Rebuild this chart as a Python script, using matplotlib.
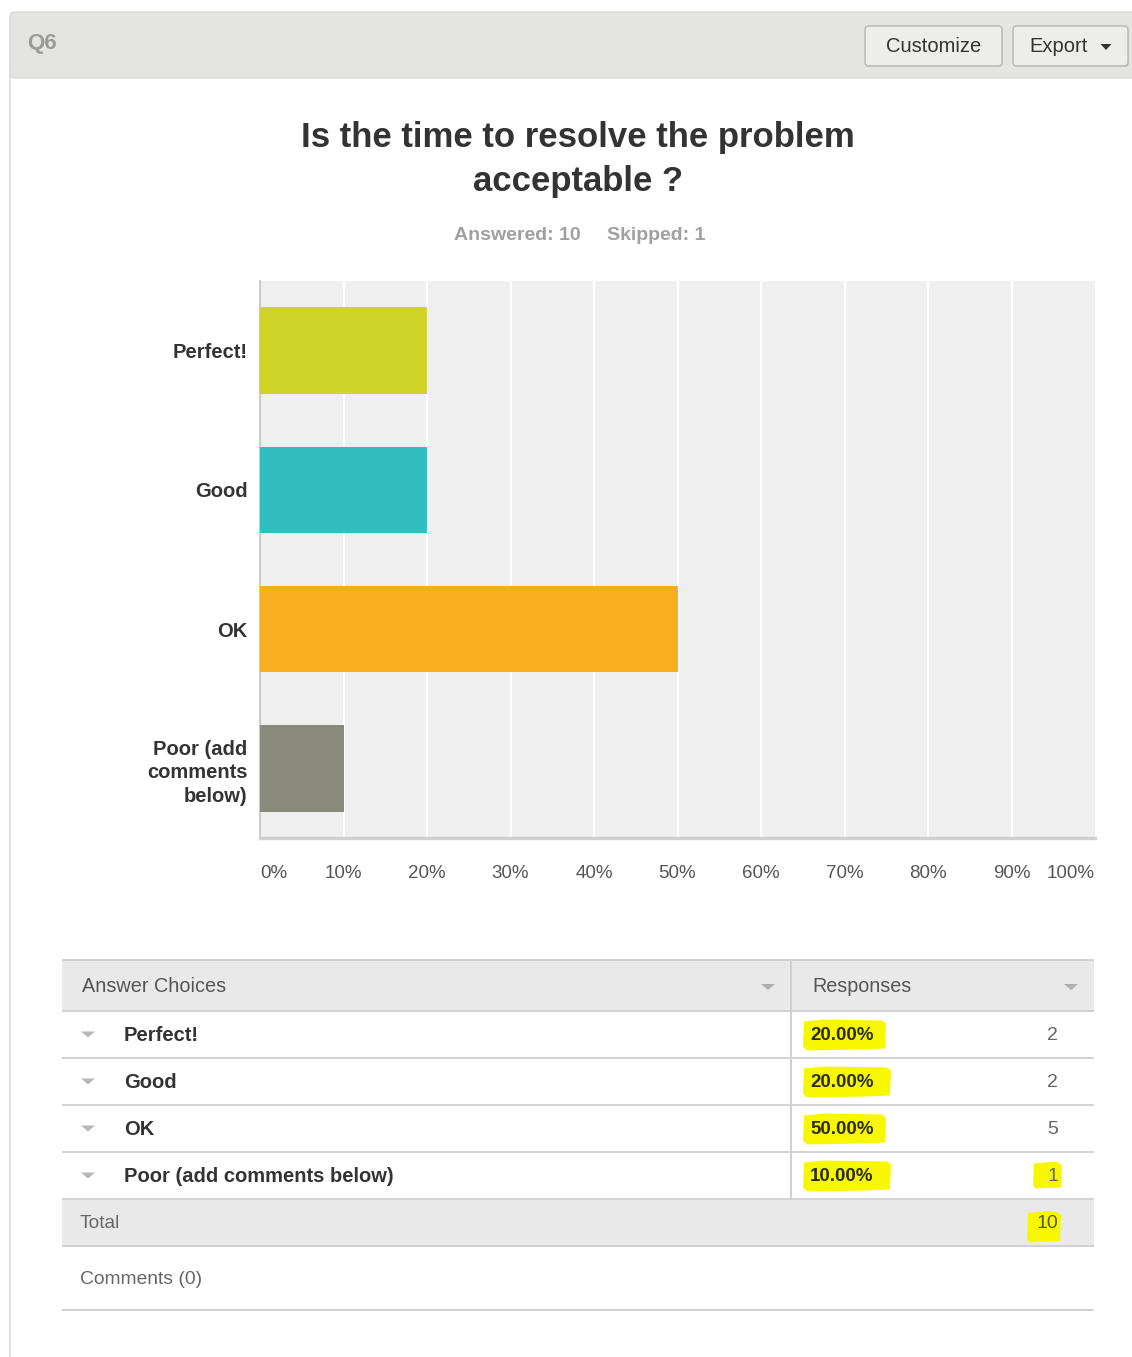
import matplotlib
import matplotlib.pyplot as plt
from matplotlib.patches import Rectangle, FancyBboxPatch, Polygon

matplotlib.use('Agg')
plt.rcParams['font.family'] = ['Liberation Sans', 'DejaVu Sans']

# survey results
question = "Q6"
title_lines = ["Is the time to resolve the problem", "acceptable ?"]
answered = 10
skipped = 1
choices = ["Perfect!", "Good", "OK", "Poor (add comments below)"]
axis_labels = ["Perfect!", "Good", "OK", "Poor (add\ncomments\nbelow)"]
percents = [20, 20, 50, 10]
counts = [2, 2, 5, 1]
comment_count = 0
x_ticks = [0, 10, 20, 30, 40, 50, 60, 70, 80, 90, 100]

bar_colors = ["#cfd427", "#32bdbf", "#f7af1f", "#898a7a"]

W, H = 1132, 1357
fig = plt.figure(figsize=(W / 100, H / 100), dpi=100)
fig.patch.set_facecolor("white")

# pixel-space overlay for the page furniture
ov = fig.add_axes([0, 0, 1, 1])
ov.set_xlim(0, W)
ov.set_ylim(H, 0)
ov.axis("off")
ov.set_zorder(0)


def px_rect(x0, y0, x1, y1, **kw):
    ov.add_patch(Rectangle((x0, y0), x1 - x0, y1 - y0, **kw))


def hline(x0, x1, y, color="#d3d3d3", lw=1.6):
    ov.plot([x0, x1], [y, y], color=color, lw=lw, solid_capstyle="butt")


def caret(cx, cy, w=13, h=6, color="#b0b0b0"):
    ov.add_patch(Polygon([(cx - w / 2, cy - h / 2), (cx + w / 2, cy - h / 2),
                          (cx, cy + h / 2)], closed=True, color=color, lw=0))


def marker_box(x0, y0, x1, y1):
    # hand-drawn looking highlighter stroke
    pts = [(x0, y0 + 2), (x0 + 20, y0), (x1 - 4, y0 + 1), (x1, y0 + 4),
           (x1 - 1, y1 - 1), (x1 - 25, y1), (x0 + 3, y1 + 1), (x0 - 1, y1 - 3)]
    ov.add_patch(Polygon(pts, closed=True, color="#f7f700", lw=0, zorder=1))


# header band
ov.add_patch(FancyBboxPatch((10, 12), W - 10 + 10, 66,
                            boxstyle="round,pad=0,rounding_size=5",
                            facecolor="#e4e4e2", edgecolor="#d8d8d6", lw=1))
ov.plot([10, 10], [70, H], color="#dcdcdc", lw=1.2)
ov.text(27, 43, question, fontsize=16, fontweight="bold", color="#9a9a9a",
        va="center", ha="left")

for x0, x1, label in [(865, 1002, "Customize"), (1013, 1128, "Export")]:
    ov.add_patch(FancyBboxPatch((x0 + 1, 27), x1 - x0, 40,
                                boxstyle="round,pad=0,rounding_size=4",
                                facecolor="#c8c8c6", edgecolor="none"))
    ov.add_patch(FancyBboxPatch((x0, 26), x1 - x0, 40,
                                boxstyle="round,pad=0,rounding_size=4",
                                facecolor="#ededeb", edgecolor="#bdbdbb", lw=1.2))
    if label == "Export":
        ov.text(1029, 46, label, fontsize=14.5, color="#333333", va="center", ha="left")
        caret(1106, 47, w=11, h=6, color="#333333")
    else:
        ov.text((x0 + x1) / 2, 46, label, fontsize=14.5, color="#333333",
                va="center", ha="center")

# title block
for line, y in zip(title_lines, [137, 181]):
    ov.text(578, y, line, fontsize=25, fontweight="bold", color="#333333",
            ha="center", va="center")
ov.text(517, 236, f"Answered: {answered}", fontsize=14, fontweight="bold",
        color="#a0a0a0", ha="center", va="center")
ov.text(656, 236, f"Skipped: {skipped}", fontsize=14, fontweight="bold",
        color="#a0a0a0", ha="center", va="center")

# bar chart
ax_l, ax_r, ax_t, ax_b = 260, 1095, 281, 838
ax = fig.add_axes([ax_l / W, (H - ax_b) / H, (ax_r - ax_l) / W, (ax_b - ax_t) / H])
ax.set_zorder(2)
ax.set_facecolor("#efefef")
ypos = list(range(len(choices)))
ax.barh(ypos, percents, height=0.62, color=bar_colors, zorder=3)
ax.set_xlim(0, 100)
ax.set_ylim(len(choices) - 0.5, -0.5)
for t in x_ticks[1:-1]:
    ax.axvline(t, color="white", lw=1.6, zorder=1)
for side in ["top", "right"]:
    ax.spines[side].set_visible(False)
ax.spines["left"].set_color("#cccccc")
ax.spines["left"].set_linewidth(1.5)
ax.spines["bottom"].set_color("#d0d0d0")
ax.spines["bottom"].set_linewidth(2.5)

ax.set_yticks(ypos)
ax.set_yticklabels(axis_labels, fontsize=14.5, fontweight="bold", color="#333333",
                   linespacing=1.3)
ax.tick_params(axis="y", length=0, pad=9)
ax.set_xticks(x_ticks)
ax.set_xticklabels([f"{t}%" for t in x_ticks], fontsize=13.5, color="#555555")
ax.tick_params(axis="x", length=0, pad=19.5)
xt = ax.get_xticklabels()
xt[0].set_ha("left")
xt[-1].set_ha("right")

# results table
tl, tr, col = 62, 1094, 791
row_h = 47
head_t, head_b = 960, 1011
px_rect(tl, head_t, tr, head_b, facecolor="#e9e9e9", edgecolor="none")
hline(tl, tr, head_t, color="#d0d0d0", lw=1.4)
hline(tl, tr, head_b, color="#d0d0d0", lw=1.4)
ov.text(82, 987, "Answer Choices", fontsize=14.3, color="#555555", va="center")
ov.text(812, 987, "Responses", fontsize=14.2, color="#555555", va="center")
caret(768, 987, w=14, h=6)
caret(1071, 987, w=14, h=6)

total_t = head_b + row_h * len(choices)
ov.plot([col, col], [head_t, total_t], color="#d0d0d0", lw=1.4)

for i, (name, pct, n) in enumerate(zip(choices, percents, counts)):
    top = head_b + i * row_h
    cy = top + row_h / 2
    caret(88, cy, w=14, h=6, color="#b8b8b8")
    ov.text(124, cy + 1, name, fontsize=14.5, color="#333333", va="center",
            fontweight="bold")
    marker_box(804, cy - 15, 886 + (i % 2) * 5, cy + 15)
    ov.text(810, cy + 1, f"{pct:.2f}%", fontsize=13.5, color="#2d2d10", va="center",
            fontweight="bold", zorder=3)
    if i == len(choices) - 1:
        marker_box(1034, cy - 14, 1062, cy + 13)
    ov.text(1058, cy + 1, str(n), fontsize=14, color="#666666", va="center", ha="right",
            zorder=3)
    hline(tl, tr, top + row_h, color="#d3d3d3", lw=1.4)

# total row
total_b = total_t + row_h
px_rect(tl, total_t, tr, total_b, facecolor="#e9e9e9", edgecolor="none")
hline(tl, tr, total_b, color="#d0d0d0", lw=1.4)
ov.text(80, total_t + row_h / 2 + 1, "Total", fontsize=13.8, color="#666666",
        va="center")
marker_box(1028, total_t + 12, 1061, total_t + 43)
ov.text(1058, total_t + row_h / 2 + 1, str(sum(counts)), fontsize=14,
        color="#5a5a30", va="center", ha="right", zorder=3)

ov.text(80, 1280, f"Comments ({comment_count})", fontsize=13.9, color="#666666",
        va="center")
hline(tl, tr, 1310, color="#d0d0d0", lw=1.4)

fig.savefig("out.png", dpi=100)
